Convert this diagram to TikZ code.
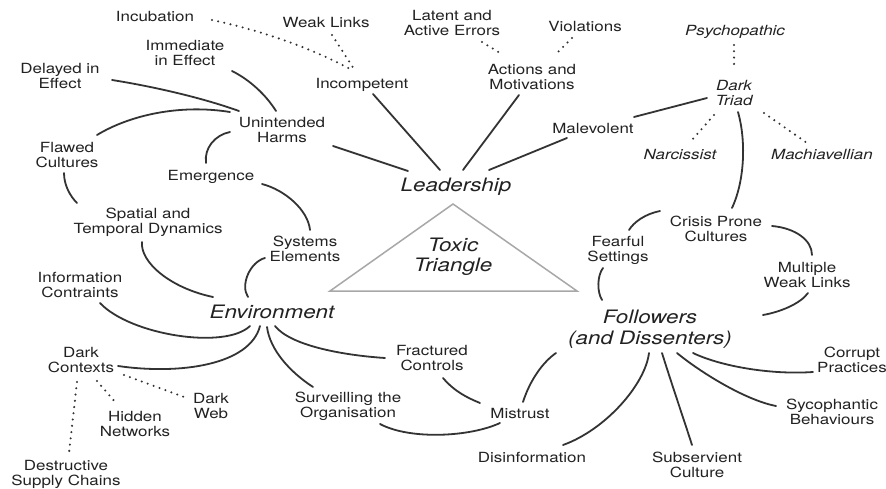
\documentclass[tikz,border=0pt]{standalone}
\usepackage{fontspec}
\setmainfont{TeX Gyre Heros}[FakeStretch=1.21]
\definecolor{txt}{HTML}{222222}
\definecolor{ln}{HTML}{333333}
\definecolor{tri}{HTML}{A8A8A8}
\begin{document}
\begin{tikzpicture}[x=1pt,y=-1pt,
  lab/.style={font=\fontsize{14}{15}\selectfont, align=center, inner sep=0pt, text=txt},
  ilab/.style={font=\fontsize{14}{15}\selectfont\itshape, align=center, inner sep=0pt, text=txt},
  big/.style={font=\fontsize{18.5}{20.5}\selectfont\itshape, align=center, inner sep=0pt, text=txt},
  link/.style={draw=ln, line width=1.8pt, line cap=round},
  dotlink/.style={draw=ln, line width=2.3pt, line cap=round, dash pattern=on 0pt off 6.3pt},
  tribox/.style={draw=tri, line width=1.5pt, line join=miter}]
\useasboundingbox[fill=white] (0,0) rectangle (886,489);

% nodes
\node[lab] (inc) at (155,17) {Incubation};
\node[lab] (wl) at (326,23) {Weak Links};
\node[lab] (lat) at (452,23) {Latent and\\Active Errors};
\node[lab] (vio) at (585,27) {Violations};
\node[lab] (imm) at (185,53) {Immediate\\in Effect};
\node[lab] (del) at (60,76) {Delayed in\\Effect};
\node[lab] (incp) at (362,85) {Incompetent};
\node[lab] (act) at (532,77) {Actions and\\Motivations};
\node[ilab] (psy) at (735,32) {Psychopathic};
\node[ilab] (dt) at (734,93) {Dark\\Triad};
\node[lab] (uh) at (282,130) {Unintended\\Harms};
\node[lab] (mal) at (593,129) {Malevolent};
\node[lab] (fla) at (67,155) {Flawed\\Cultures};
\node[ilab] (nar) at (680,155) {Narcissist};
\node[ilab] (mac) at (822,155) {Machiavellian};
\node[lab] (eme) at (211,177) {Emergence};
\node[big] (lead) at (456,187) {Leadership};
\node[lab] (spa) at (148,222) {Spatial and\\Temporal Dynamics};
\node[lab] (cpc) at (716,229) {Crisis Prone\\Cultures};
\node[lab] (sys) at (305,249) {Systems\\Elements};
\node[lab] (fs) at (618,250) {Fearful\\Settings};
\node[big] (tt) at (453,257) {Toxic\\Triangle};
\node[lab] (mwl) at (807,275) {Multiple\\Weak Links};
\node[lab] (ic) at (80,285) {Information\\Contraints};
\node[big] (env) at (272,312) {Environment};
\node[big] (fol) at (650,329) {Followers\\(and Dissenters)};
\node[lab] (fc) at (432,358) {Fractured\\Controls};
\node[lab] (dc) at (81,360) {Dark\\Contexts};
\node[lab] (cor) at (852,360) {Corrupt\\Practices};
\node[lab] (sur) at (348,406) {Surveilling the\\Organisation};
\node[lab] (dw) at (211,406) {Dark\\Web};
\node[lab] (mis) at (520,413) {Mistrust};
\node[lab] (syc) at (832,412) {Sycophantic\\Behaviours};
\node[lab] (hn) at (135,424) {Hidden\\Networks};
\node[lab] (dis) at (532,457) {Disinformation};
\node[lab] (sub) at (697,465) {Subservient\\Culture};
\node[lab] (dsc) at (66,474) {Destructive\\Supply Chains};

% triangle
\coordinate (ta) at (453,204);
\coordinate (tl) at (330,291);
\coordinate (tr) at (577,291);
\draw[tribox] (tl) -- (ta) -- (tr) -- cycle;

% dotted links
\path[dotlink] ([shift={(57,3)}]inc.center) .. controls (267,32) and (313,49) .. ([shift={(-10,-15)}]incp.center);
\path[dotlink] ([shift={(6,12)}]wl.center) -- ([shift={(-8,-16)}]incp.center);
\path[dotlink] ([shift={(30,19)}]lat.center) -- ([shift={(-32,-24)}]act.center);
\path[dotlink] ([shift={(-13,11)}]vio.center) -- ([shift={(25,-24)}]act.center);
\path[dotlink] ([shift={(-1,13)}]psy.center) -- ([shift={(0,-23)}]dt.center);
\path[dotlink] ([shift={(-20,22)}]dt.center) -- ([shift={(12,-15)}]nar.center);
\path[dotlink] ([shift={(30,20)}]dt.center) -- ([shift={(-15,-12)}]mac.center);
\path[dotlink] ([shift={(-4,22)}]dc.center) -- ([shift={(3,-21)}]dsc.center);
\path[dotlink] ([shift={(16,21)}]dc.center) -- ([shift={(-19,-21)}]hn.center);
\path[dotlink] ([shift={(43,15)}]dc.center) -- ([shift={(-27,-9)}]dw.center);

% solid links: leadership
\path[link] ([shift={(51,16)}]uh.center) -- ([shift={(-48,-16)}]lead.center);
\path[link] ([shift={(11,9)}]incp.center) -- ([shift={(-16,-17)}]lead.center);
\path[link] ([shift={(-13,18)}]act.center) -- ([shift={(7,-17)}]lead.center);
\path[link] ([shift={(-26,9)}]mal.center) -- ([shift={(33,-17)}]lead.center);
\path[link] ([shift={(-27,5)}]dt.center) -- ([shift={(41,-12)}]mal.center);
\path[link] ([shift={(4,19)}]dt.center) .. controls (746,140) and (745,180) .. ([shift={(16,-21)}]cpc.center);

% unintended harms cluster
\path[link] ([shift={(47,18)}]imm.center) .. controls (250,80) and (266,95) .. ([shift={(-6,-19)}]uh.center);
\path[link] ([shift={(52,4)}]del.center) .. controls (150,86) and (200,97) .. ([shift={(-43,-19)}]uh.center);
\path[link] ([shift={(30,-20)}]fla.center) .. controls (130,115) and (180,104) .. ([shift={(-52,-18)}]uh.center);
\path[link] ([shift={(-5,-14)}]eme.center) .. controls (204,148) and (215,135) .. ([shift={(-52,2)}]uh.center);
\path[link] ([shift={(-3,18)}]fla.center) .. controls (64,185) and (70,196) .. ([shift={(-71,-19)}]spa.center);
\path[link] ([shift={(51,7)}]eme.center) .. controls (285,190) and (308,210) .. ([shift={(5,-19)}]sys.center);

% environment cluster
\path[link] ([shift={(-6,20)}]spa.center) .. controls (140,262) and (170,288) .. ([shift={(-59,-15)}]env.center);
\path[link] ([shift={(-40,9)}]sys.center) .. controls (250,262) and (240,285) .. ([shift={(-24,-15)}]env.center);
\path[link] ([shift={(20,18)}]ic.center) .. controls (130,335) and (225,350) .. ([shift={(-22,14)}]env.center);
\path[link] ([shift={(37,6)}]dc.center) .. controls (180,375) and (250,365) .. ([shift={(-12,14)}]env.center);
\path[link] ([shift={(3,14)}]env.center) .. controls (290,345) and (340,355) .. ([shift={(-47,0)}]fc.center);
\path[link] ([shift={(-5,15)}]env.center) .. controls (270,350) and (290,372) .. ([shift={(-35,-19)}]sur.center);
\path[link] ([shift={(32,18)}]sur.center) .. controls (410,440) and (470,437) .. ([shift={(-20,10)}]mis.center);
\path[link] ([shift={(11,20)}]fc.center) .. controls (455,392) and (468,398) .. ([shift={(-40,-10)}]mis.center);
\path[link] ([shift={(3,-11)}]mis.center) .. controls (530,380) and (543,362) .. ([shift={(-94,24)}]fol.center);

% followers cluster
\path[link] ([shift={(-15,18)}]fs.center) .. controls (597,276) and (597,292) .. ([shift={(-48,-29)}]fol.center);
\path[link] ([shift={(-56,-18)}]cpc.center) .. controls (645,214) and (634,222) .. ([shift={(11,-20)}]fs.center);
\path[link] ([shift={(56,-3)}]cpc.center) .. controls (795,228) and (812,240) .. ([shift={(5,-20)}]mwl.center);
\path[link] ([shift={(1,18)}]mwl.center) .. controls (800,304) and (780,312) .. ([shift={(113,-14)}]fol.center);
\path[link] ([shift={(43,24)}]fol.center) .. controls (720,366) and (770,375) .. ([shift={(-39,12)}]cor.center);
\path[link] ([shift={(27,24)}]fol.center) .. controls (700,372) and (745,400) .. ([shift={(-56,-6)}]syc.center);
\path[link] ([shift={(12,24)}]fol.center) .. controls (672,385) and (684,420) .. ([shift={(-5,-20)}]sub.center);
\path[link] ([shift={(-1,24)}]fol.center) .. controls (645,385) and (605,430) .. ([shift={(31,-12)}]dis.center);
\end{tikzpicture}
\end{document}
